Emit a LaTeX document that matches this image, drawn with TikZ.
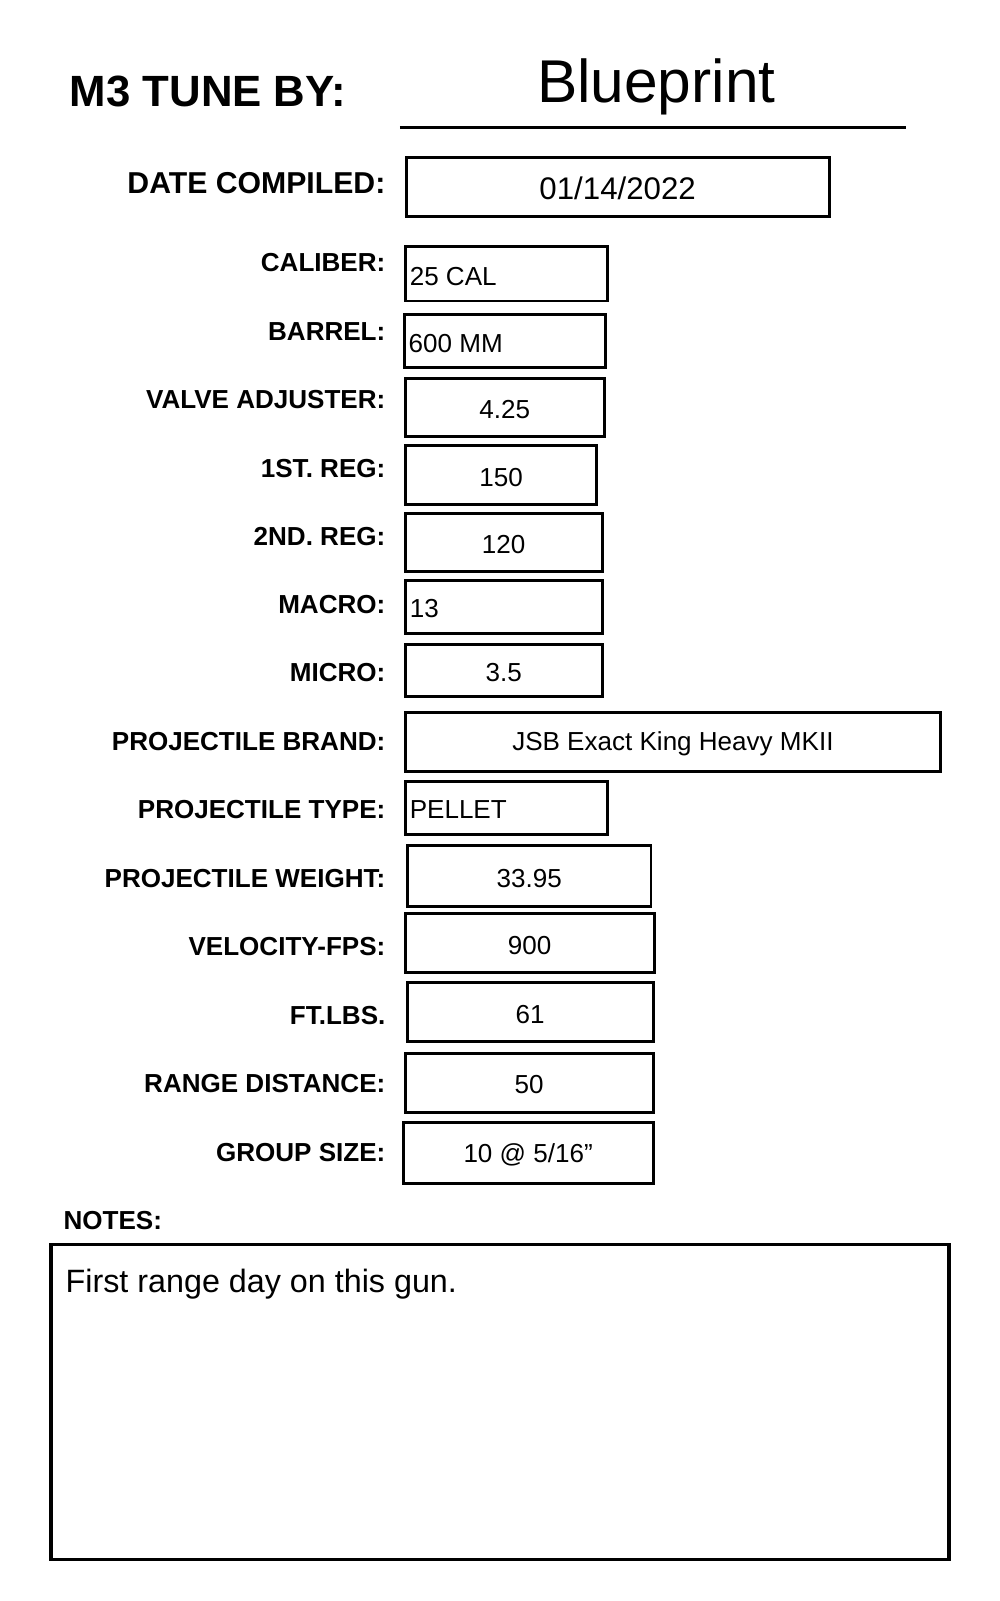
\documentclass[tikz,border=0pt]{standalone}
\usepackage{fontspec}
\setmainfont{Liberation Sans}
\begin{document}
\begin{tikzpicture}[x=0.5pt,y=-0.5pt,
  lab/.style={anchor=east,font=\bfseries\fontsize{12.5}{14}\selectfont},
  fbox/.style={draw,line width=1.4pt},
  val/.style={font=\fontsize{12.5}{14}\selectfont}]
\useasboundingbox (0,0) rectangle (960,1537);
\node[anchor=west,font=\bfseries\fontsize{21}{24}\selectfont] (title) at (60,88) {M3 TUNE BY:};
\node[font=\fontsize{29}{32}\selectfont] (bp) at (630,83) {Blueprint};
\coordinate (l1) at (384,122); \coordinate (l2) at (870,122);
\draw[line width=1.5pt] (l1) -- (l2);
\node[lab,font=\bfseries\fontsize{14.5}{16}\selectfont] (ldate) at (377,176) {DATE COMPILED:};
\draw[fbox] (390,151) rectangle (796,208);
\node[font=\fontsize{15}{17}\selectfont] (vdate) at (593,181) {01/14/2022};
% rows: label y, box x1 y1 x2 y2, text, align
\foreach \n/\ly/\xa/\ya/\xb/\yb/\t/\al in {
 a/252/389/237/583/289/{25 CAL}/l,
 b/318/388/302/581/353/{600 MM}/l,
 c/384/389/363/580/419/{4.25}/c,
 d/450/389/428/573/484/{150}/c,
 e/515/389/493/578/549/{120}/c,
 f/580/389/557/578/608/{13}/l,
 g/646/389/619/578/669/{3.5}/c,
 h/712/389/684/903/741/{JSB Exact King Heavy MKII}/c,
 i/777/389/750/583/801/{PELLET}/l,
 j/843/391/812/625/870/{33.95}/c,
 k/909/389/877/628/934/{900}/c,
 m/975/391/943/627/1000/{61}/c,
 o/1040/389/1011/627/1068/{50}/c,
 p/1106/387/1078/627/1136/{10 @ 5/16"}/c}{
  \draw[fbox] (\xa,\ya) rectangle (\xb,\yb);
  \if\al l
    \node[val,anchor=west,inner sep=2pt] (v\n) at (\xa,{(\ya+\yb)/2+2}) {\t};
  \else
    \node[val] (v\n) at ({(\xa+\xb)/2},{(\ya+\yb)/2+2}) {\t};
  \fi
}
\node[lab] (la) at (377,252) {CALIBER:};
\node[lab] (lb) at (377,318) {BARREL:};
\node[lab] (lc) at (377,384) {VALVE ADJUSTER:};
\node[lab] (ld) at (377,450) {1ST. REG:};
\node[lab] (le) at (377,515) {2ND. REG:};
\node[lab] (lf) at (377,580) {MACRO:};
\node[lab] (lg) at (377,646) {MICRO:};
\node[lab] (lh) at (377,712) {PROJECTILE BRAND:};
\node[lab] (li) at (377,777) {PROJECTILE TYPE:};
\node[lab] (lj) at (377,843) {PROJECTILE WEIGHT:};
\node[lab] (lk) at (377,909) {VELOCITY-FPS:};
\node[lab] (lm) at (377,975) {FT.LBS.};
\node[lab] (lo) at (377,1040) {RANGE DISTANCE:};
\node[lab] (lp) at (377,1106) {GROUP SIZE:};
\node[lab,anchor=west] (ln) at (54,1172) {NOTES:};
\draw[fbox,line width=1.5pt] (49,1195) rectangle (911,1497);
\node[anchor=west,font=\fontsize{15.5}{18}\selectfont] (vn) at (56,1233) {First range day on this gun.};
\end{tikzpicture}
\end{document}
